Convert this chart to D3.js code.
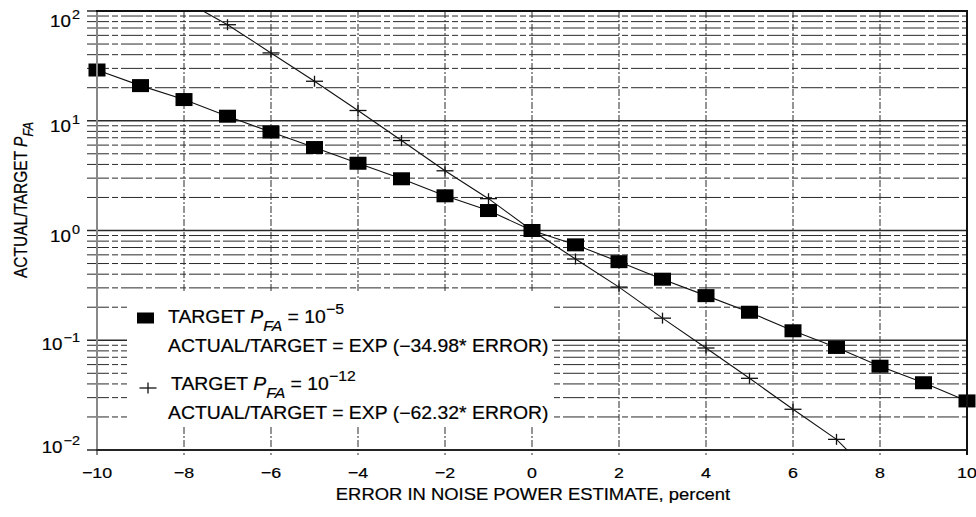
<!DOCTYPE html>
<html>
<head>
<meta charset="utf-8">
<script src="https://cdnjs.cloudflare.com/ajax/libs/d3/7.8.5/d3.min.js"></script>
<style>
  body { margin: 0; background: #fff; }
  svg text { font-family: "Liberation Sans", Arial, sans-serif; fill: #000; stroke: #000; stroke-width: 0.2px; }
</style>
</head>
<body>
<svg id="chart" width="976" height="517"></svg>
<script>
//  error in noise power estimate (percent)
const error_x = [-10, -9, -8, -7, -6, -5, -4, -3, -2, -1, 0, 1, 2, 3, 4, 5, 6, 7, 8, 9, 10];
//  actual/target PFA, target PFA = 1e-5 (squares)
const ratio_1e5 = [29, 20.9, 15.6, 11.0, 7.9, 5.7, 4.1, 2.96, 2.07, 1.52, 1.0,
                   0.74, 0.52, 0.36, 0.255, 0.18, 0.122, 0.086, 0.058, 0.041, 0.028];

//  target PFA = 1e-12 (plus)
const error_x_12 = [-7, -6, -5, -4, -3, -2, -1, 0, 1, 2, 3, 4, 5, 6, 7];
const ratio_1e12 = [75, 41.5, 22.9, 12.4, 6.6, 3.5, 1.95, 1.0,
                    0.55, 0.305, 0.159, 0.085, 0.045, 0.0235, 0.0125];
//  the line keeps going past the first and last marker
const line_ends_1e12 = [[-8, 125], [8, 0.005]];

const x_ticks = [-10, -8, -6, -4, -2, 0, 2, 4, 6, 8, 10];
const y_exponents = [-2, -1, 0, 1, 2];

const legend_lines = [
  {exp: "\u22125", formula: "ACTUAL/TARGET = EXP (\u221234.98* ERROR)"},
  {exp: "\u221212", formula: "ACTUAL/TARGET = EXP (\u221262.32* ERROR)"}
];

//  draw chart
function draw_chart() {
  const margin = ({top: 11, right: 9, bottom: 67, left: 97});
  const w = 976, h = 517;
  const svg = d3.select("#chart");

  const x = d3.scaleLinear().domain([-10, 10]).range([margin.left, w - margin.right]);
  const y = d3.scaleLog().domain([0.01, 100]).range([h - margin.bottom, margin.top]);

  //  minor grid values 1..9 per decade
  var grid_y = [];
  y_exponents.forEach(e => {
    for (let k = 1; k <= 9; ++k) {
      const v = k * Math.pow(10, e);
      if (v <= 100) grid_y.push(v);
    }
  });

  //  horizontal grid (also ticks left of axis)
  svg.append("g").selectAll("line").data(grid_y).join("line")
     .attr("x1", margin.left - 10).attr("x2", w - margin.right)
     .attr("y1", d => y(d)).attr("y2", d => y(d))
     .attr("stroke", "#2a2a2a")
     .attr("stroke-width", d => Number.isInteger(Math.log10(d)) ? 1.4 : 1)
     .attr("stroke-dasharray", d => Number.isInteger(Math.log10(d)) ? null : "22,3,6,3");

  //  vertical grid
  svg.append("g").selectAll("line").data(x_ticks.slice(1, -1)).join("line")
     .attr("x1", d => x(d)).attr("x2", d => x(d))
     .attr("y1", margin.top).attr("y2", h - margin.bottom + 5)
     .attr("stroke", "#2a2a2a")
     .attr("stroke-width", 1)
     .attr("stroke-dasharray", "7,2,2,2");

  //  legend background hides grid
  svg.append("rect")
     .attr("x", 127).attr("y", 293).attr("width", 425).attr("height", 133)
     .attr("fill", "#fff");

  //  lines
  const line = d3.line().x(d => x(d[0])).y(d => y(d[1]));
  const pts_1e5 = error_x.map((e, i) => [e, ratio_1e5[i]]);
  const pts_1e12 = error_x_12.map((e, i) => [e, ratio_1e12[i]]);

  svg.append("clipPath").attr("id", "plot_clip")
     .append("rect")
     .attr("x", margin.left).attr("y", margin.top)
     .attr("width", w - margin.left - margin.right)
     .attr("height", h - margin.top - margin.bottom);

  svg.append("path")
     .attr("d", line(pts_1e5))
     .attr("fill", "none").attr("stroke", "#111").attr("stroke-width", 1.1);

  svg.append("path")
     .attr("d", line([line_ends_1e12[0]].concat(pts_1e12, [line_ends_1e12[1]])))
     .attr("clip-path", "url(#plot_clip)")
     .attr("fill", "none").attr("stroke", "#111").attr("stroke-width", 1.1);

  //  plus markers
  const plus = svg.append("g").selectAll("g").data(pts_1e12).join("g")
     .attr("transform", d => `translate(${x(d[0])},${y(d[1])})`);
  plus.append("line").attr("x1", -8.5).attr("x2", 8.5).attr("stroke", "#111").attr("stroke-width", 1.3);
  plus.append("line").attr("y1", -5.5).attr("y2", 5.5).attr("stroke", "#111").attr("stroke-width", 1.3);

  //  square markers
  svg.append("g").selectAll("rect").data(pts_1e5).join("rect")
     .attr("x", d => x(d[0]) - 8.5).attr("y", d => y(d[1]) - 6.5)
     .attr("width", 17).attr("height", 13)
     .attr("fill", "#000");

  //  frame
  svg.append("line").attr("x1", margin.left).attr("x2", margin.left)
     .attr("y1", margin.top).attr("y2", h - margin.bottom + 5)
     .attr("stroke", "#888").attr("stroke-width", 2);
  svg.append("line").attr("x1", margin.left - 1).attr("x2", w - margin.right + 1)
     .attr("y1", h - margin.bottom).attr("y2", h - margin.bottom)
     .attr("stroke", "#111").attr("stroke-width", 1.6);
  svg.append("line").attr("x1", margin.left - 1).attr("x2", w - margin.right + 1)
     .attr("y1", margin.top).attr("y2", margin.top)
     .attr("stroke", "#111").attr("stroke-width", 2);
  svg.append("line").attr("x1", w - margin.right).attr("x2", w - margin.right)
     .attr("y1", margin.top).attr("y2", h - margin.bottom + 5)
     .attr("stroke", "#111").attr("stroke-width", 2);

  //  x tick labels
  svg.append("g").selectAll("text").data(x_ticks).join("text")
     .attr("transform", d => `translate(${x(d)},478) scale(1.15,1)`)
     .attr("text-anchor", "middle")
     .style("font-size", "15.5px")
     .text(d => d < 0 ? "\u2212" + (-d) : d);

  //  y tick labels
  const y_off = {"-2": 3, "-1": 10, "0": 11, "1": 11, "2": 16};
  const yl = svg.append("g").selectAll("text").data(y_exponents).join("text")
     .attr("transform", d => `translate(80,${y(Math.pow(10, d)) + y_off[d]}) scale(1.15,1)`)
     .attr("text-anchor", "end")
     .style("font-size", "16.3px");
  yl.append("tspan").text("10");
  yl.append("tspan").attr("dy", -8).attr("dx", 1).style("font-size", "12.5px")
    .text(d => d < 0 ? "\u2212" + (-d) : d);

  //  x title
  svg.append("text")
     .attr("transform", "translate(533,500) scale(1.13,1)")
     .attr("text-anchor", "middle")
     .style("font-size", "16.3px")
     .text("ERROR IN NOISE POWER ESTIMATE, percent");

  //  y title
  const yt = svg.append("text")
     .attr("transform", "translate(27,278) rotate(-90) scale(1,1.2)")
     .style("font-size", "15.5px");
  yt.append("tspan").text("ACTUAL/TARGET ");
  yt.append("tspan").style("font-style", "italic").text("P");
  yt.append("tspan").attr("dy", 5).style("font-style", "italic").style("font-size", "12px").text("FA");

  //  legend
  const lg = svg.append("g");
  lg.append("rect").attr("x", 137).attr("y", 312.5).attr("width", 17).attr("height", 11).attr("fill", "#000");
  lg.append("line").attr("x1", 139.5).attr("x2", 156.5).attr("y1", 388).attr("y2", 388).attr("stroke", "#111").attr("stroke-width", 1.3);
  lg.append("line").attr("x1", 148).attr("x2", 148).attr("y1", 382.5).attr("y2", 393.5).attr("stroke", "#111").attr("stroke-width", 1.3);

  const base_y = [323, 390];
  const base_x = [168, 171];
  legend_lines.forEach((d, i) => {
    const t = lg.append("text")
       .attr("transform", `translate(${base_x[i]},${base_y[i]}) scale(1.09,1)`)
       .style("font-size", "17.8px");
    t.append("tspan").text("TARGET ");
    t.append("tspan").style("font-style", "italic").text("P");
    t.append("tspan").attr("dy", 8).style("font-style", "italic").style("font-size", "14.5px").text("FA");
    t.append("tspan").attr("dy", -8).text(" = 10");
    t.append("tspan").attr("dy", -9).style("font-size", "14.5px").text(d.exp);

    lg.append("text")
       .attr("transform", `translate(168,${base_y[i] + 29}) scale(1.09,1)`)
       .style("font-size", "17.8px")
       .text(d.formula);
  });
}

draw_chart();
</script>
</body>
</html>
